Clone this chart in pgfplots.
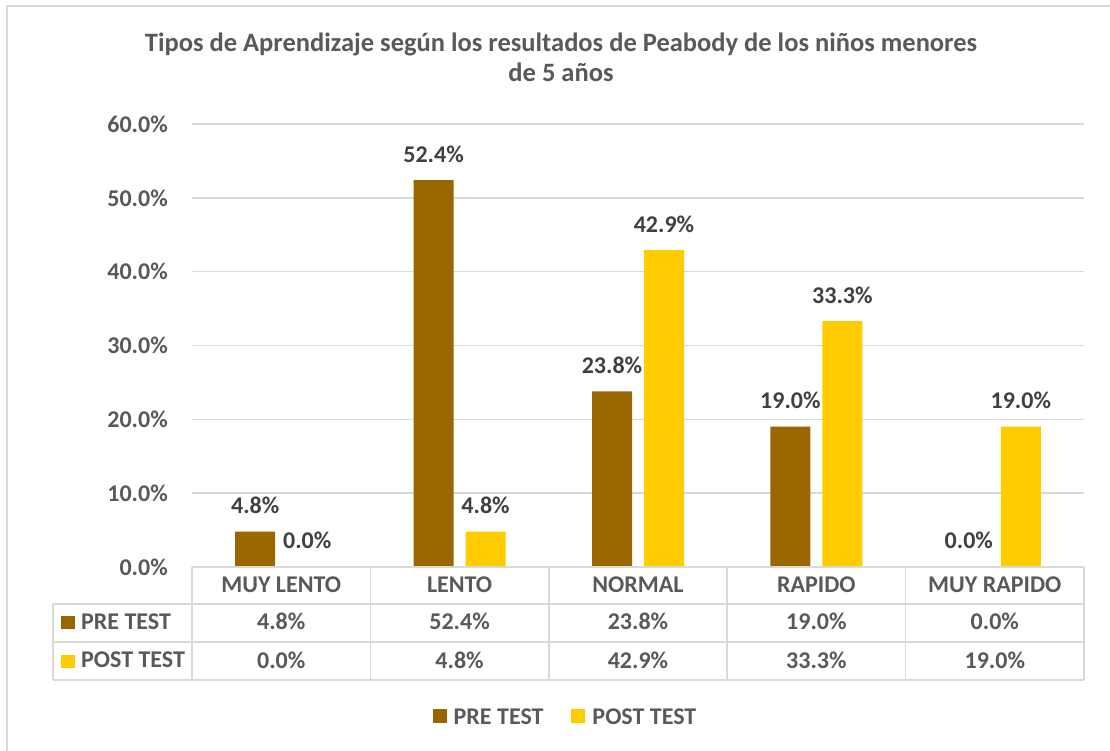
\documentclass[border=0pt]{standalone}
\usepackage{fontspec}
\setmainfont{Carlito}
\usepackage{pgfplots}
\usepackage{pgfplotstable}
\pgfplotsset{compat=1.18}
\definecolor{pre}{HTML}{996600}
\definecolor{post}{HTML}{FFCC00}
\definecolor{txt}{HTML}{595959}
\definecolor{lbl}{HTML}{404040}
\definecolor{rej}{HTML}{D9D9D9}
\newcommand\fnt{\fontsize{24pt}{28pt}\selectfont\bfseries}
\newcommand\tfnt{\fontsize{26.5pt}{30pt}\selectfont\bfseries}

\pgfplotstableread{
x pre post
0 4.8 0.0
1 52.4 4.8
2 23.8 42.9
3 19.0 33.3
4 0.0 19.0
}\datos

\begin{document}
\begin{tikzpicture}
\path[use as bounding box] (0pt,0pt) rectangle (1110pt,751pt);
\begin{scope}[x=1pt,y=1pt]
% marco exterior (solo izquierda y arriba visibles)
\draw[rej,line width=1.5pt] (7,0) -- (7,745) -- (1110,745);
% titulo
\node[anchor=base,text=txt,font=\tfnt] at (561,699) {Tipos de Aprendizaje según los resultados de Peabody de los niños menores};
\node[anchor=base,text=txt,font=\tfnt] at (561,669) {de 5 años};
\end{scope}

\begin{axis}[at={(192pt,184pt)},anchor=south west,scale only axis,
  width=892pt,height=443pt,
  xmin=-0.5,xmax=4.5,ymin=0,ymax=60,clip=false,
  axis line style={draw=none},major tick length=0pt,
  ytick={0,10,...,60},ymajorgrids,grid style={rej,line width=1.5pt},
  yticklabel={\pgfmathprintnumber[fixed,fixed zerofill,precision=1]{\tick}\%},
  yticklabel style={anchor=east,inner sep=0pt,xshift=-24pt,text=txt,font=\fnt},
  /pgf/number format/assume math mode=true,
  xtick={0,...,4},xticklabels={MUY LENTO,LENTO,NORMAL,RAPIDO,MUY RAPIDO},
  xticklabel style={anchor=base,inner sep=0pt,yshift=-26pt,text=txt,font=\fnt},
  legend style={at={(0.4187,-0.3386)},anchor=center,draw=none,fill=none,
    font=\fnt,text=txt,legend columns=2,
    /tikz/every odd column/.append style={column sep=5pt},
    /tikz/every even column/.append style={column sep=26pt}},
  legend image code/.code={\fill[#1] (0pt,-6pt) rectangle (14pt,8pt);},
  nodes near coords={\pgfmathprintnumber[fixed,fixed zerofill,precision=1]{\pgfplotspointmeta}\%},
  ]
\addplot[ybar,bar width=40pt,bar shift=-26pt,fill=pre,draw=none,
  point meta=explicit,
  nodes near coords style={anchor=base,inner sep=0pt,xshift=-26pt,yshift=18pt,text=lbl,font=\fnt}]
  table[x=x,y=pre,meta=pre] {\datos};
\addplot[ybar,bar width=40pt,bar shift=26pt,fill=post,draw=none,
  point meta=explicit,
  nodes near coords style={anchor=base,inner sep=0pt,xshift=26pt,yshift=18pt,text=lbl,font=\fnt}]
  table[x=x,y=post,meta=post] {\datos};
\legend{PRE TEST,POST TEST}
% filas de la tabla de datos
\addplot[draw=none,mark=none,forget plot,point meta=explicit,
  nodes near coords style={anchor=base,inner sep=0pt,text=txt,font=\fnt}]
  table[x=x,y expr=-8.53,meta=pre] {\datos};
\addplot[draw=none,mark=none,forget plot,point meta=explicit,
  nodes near coords style={anchor=base,inner sep=0pt,text=txt,font=\fnt}]
  table[x=x,y expr=-13.68,meta=post] {\datos};
\end{axis}

\begin{scope}[x=1pt,y=1pt]
% rejilla de la tabla
\begin{scope}[rej,line width=1.5pt]
\draw (192,184) -- (1084,184);
\draw (53,147) -- (1084,147);
\draw (53,109) -- (1084,109);
\draw (53,71) -- (1084,71);
\draw (53,147) -- (53,71);
\foreach \xx in {192,370.4,548.8,727.2,905.6,1084} \draw (\xx,184) -- (\xx,71);
\end{scope}
\fill[pre] (61,122) rectangle (75,135);
\fill[post] (61,83) rectangle (75,96);
\node[anchor=base west,inner sep=0pt,text=txt,font=\fnt] at (81,121) {PRE TEST};
\node[anchor=base west,inner sep=0pt,text=txt,font=\fnt] at (81,83) {POST TEST};
\end{scope}
\end{tikzpicture}
\end{document}
